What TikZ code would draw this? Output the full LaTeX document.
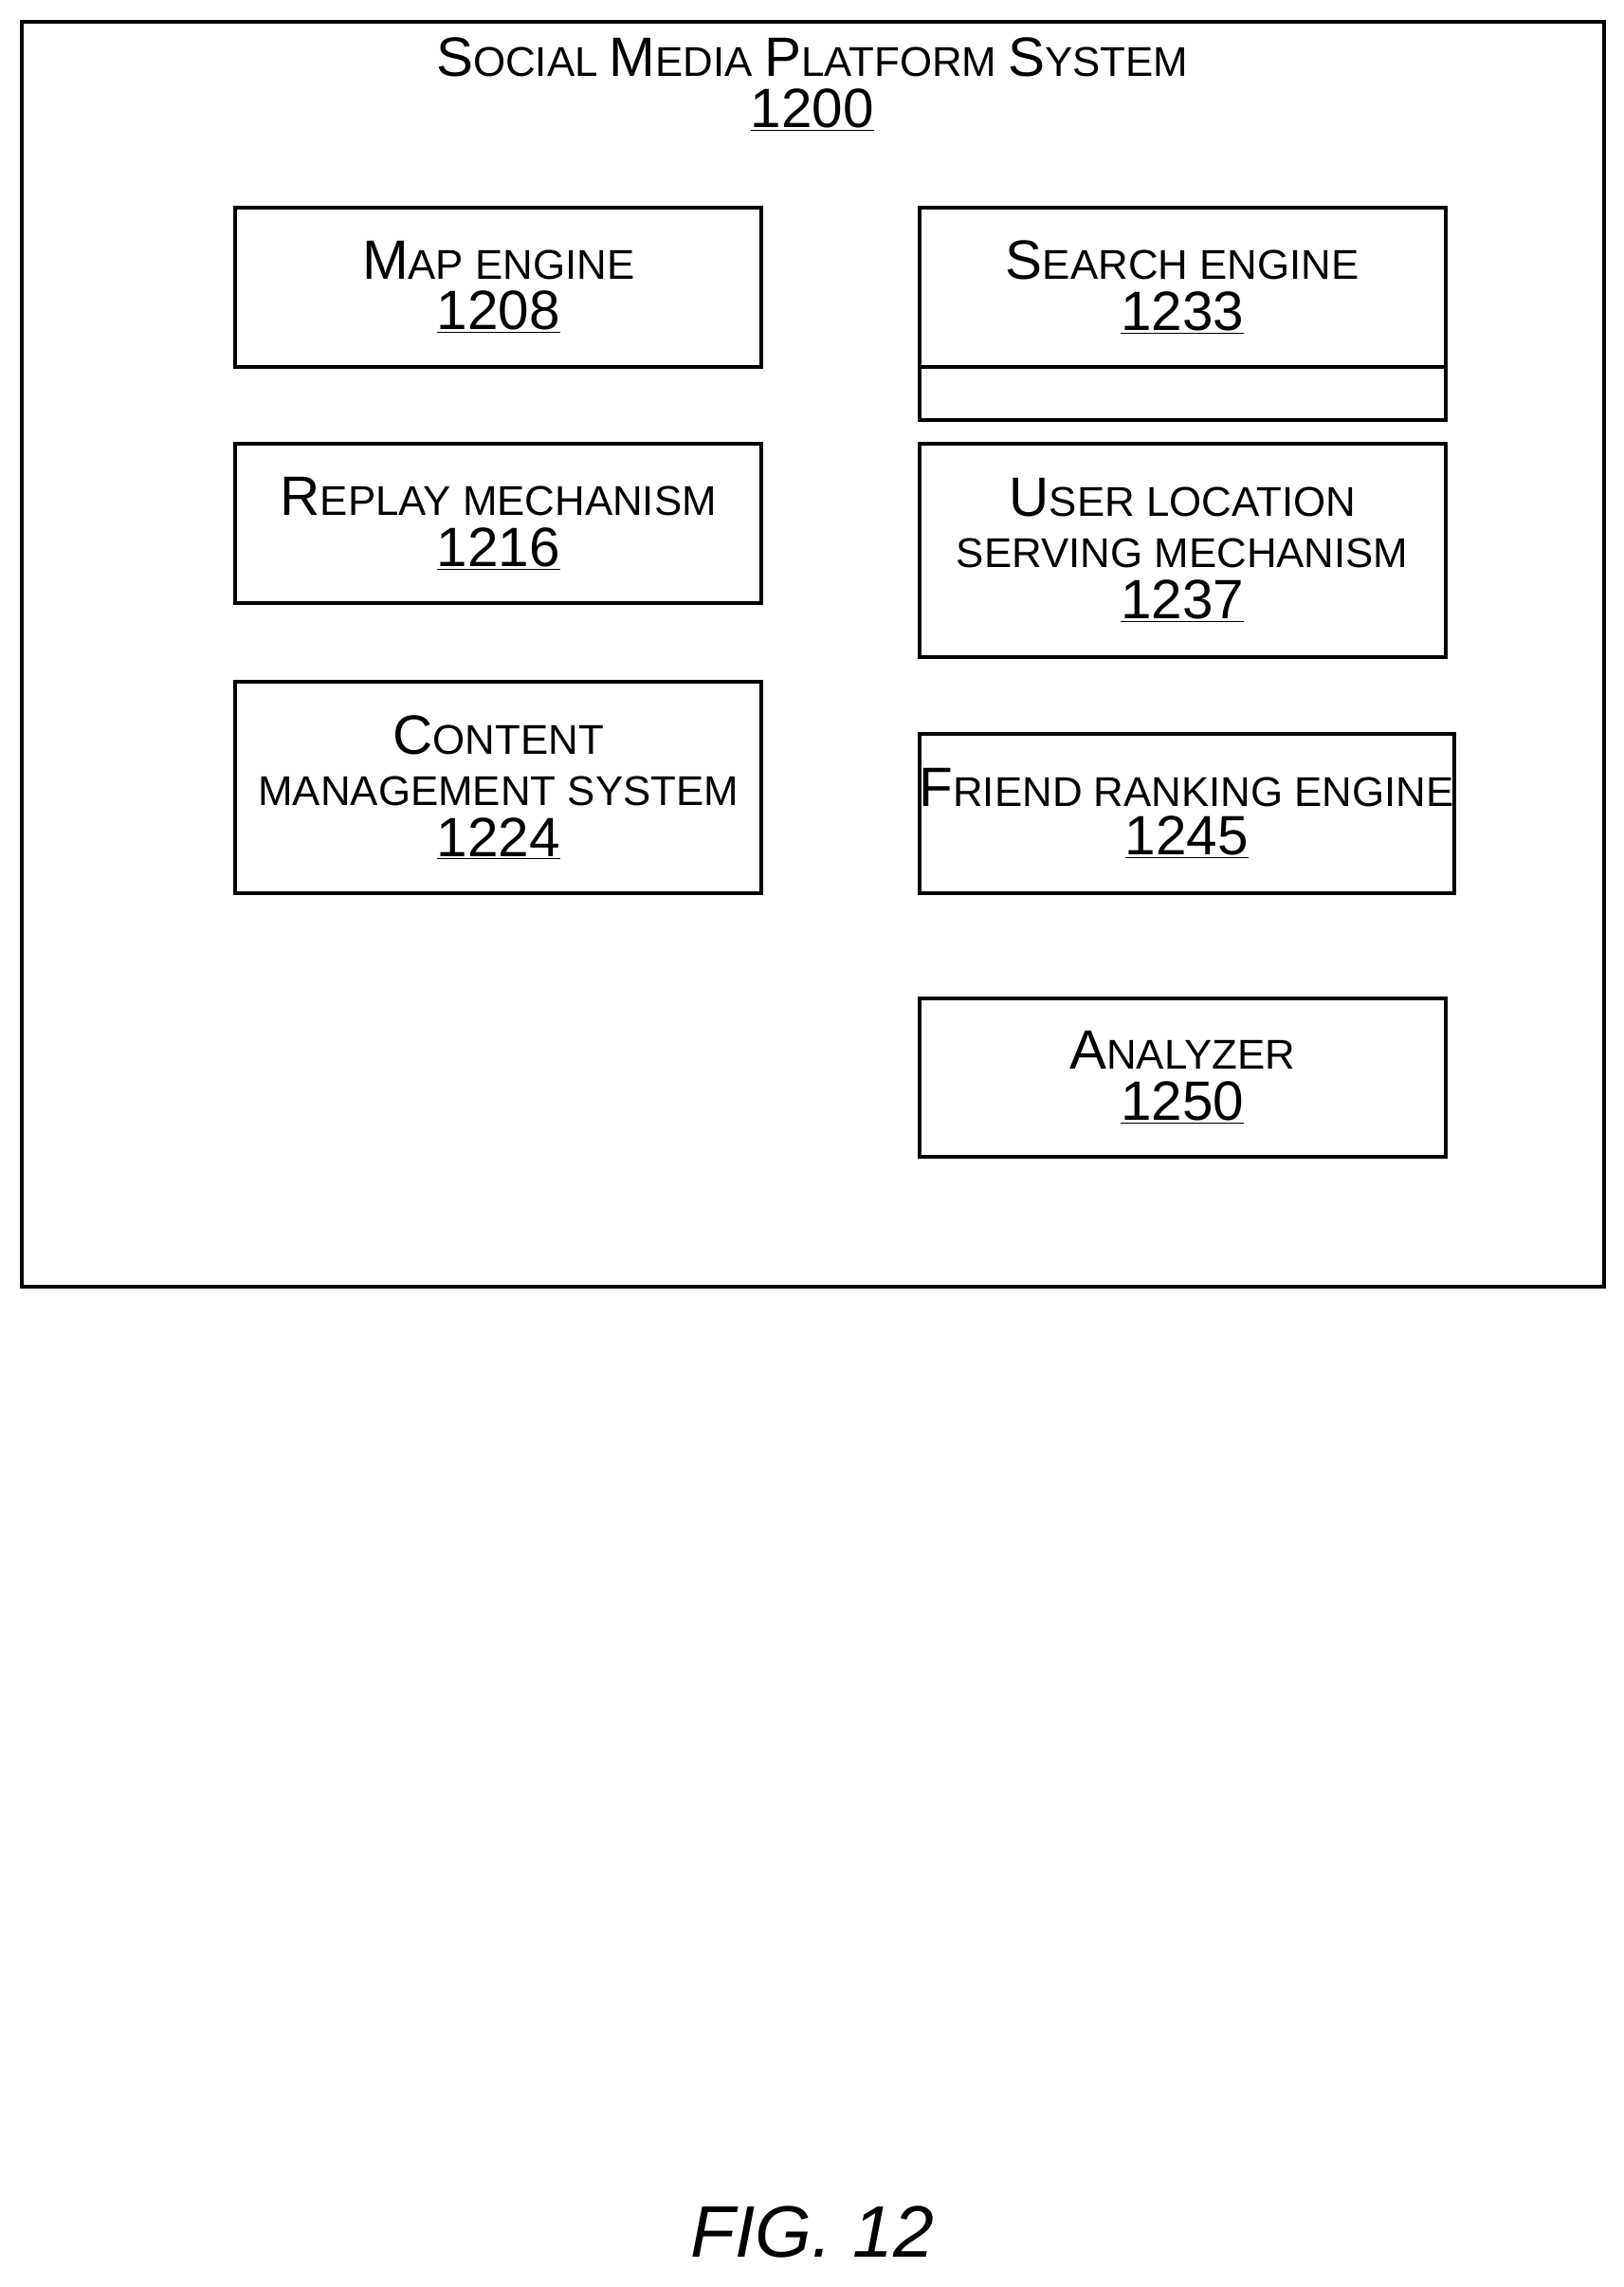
\documentclass[tikz,border=0pt]{standalone}
\usepackage{fontspec}
\setmainfont{Liberation Sans}
\newcommand{\bigL}{\fontsize{38}{38}\selectfont}
\newcommand{\smL}{\fontsize{28.5}{38}\selectfont}
\newcommand{\nm}[1]{{\bigL\underline{#1}}}
\begin{document}
\begin{tikzpicture}[x=1pt,y=-1pt,
  box/.style={draw,line width=2.6pt,minimum width=361pt,inner sep=0pt,align=center,anchor=north west,font=\bigL}]
\useasboundingbox (0,0) rectangle (1113,1568);
\draw[line width=2.6pt] (15,15) rectangle (1100,882);
\node[align=center,font=\bigL] (title) at (557,58) {{\bigL S}{\smL OCIAL }{\bigL M}{\smL EDIA }{\bigL P}{\smL LATFORM }{\bigL S}{\smL YSTEM}\\[-3pt]\nm{1200}};
\node[box,minimum height=109pt] (b1208) at (160,141) {{\bigL M}{\smL AP ENGINE}\\[-3pt]\nm{1208}};
\node[box,minimum height=109pt] (b1216) at (160,303) {{\bigL R}{\smL EPLAY MECHANISM}\\[-3pt]\nm{1216}};
\node[box,minimum height=145pt] (b1224) at (160,466) {{\bigL C}{\smL ONTENT}\\[-3pt]{\smL MANAGEMENT SYSTEM}\\[-3pt]\nm{1224}};
\node[box,minimum height=146pt] (b1233) at (629,141) {};
\node[box,minimum height=109pt] (b1233) at (629,141) {{\bigL S}{\smL EARCH ENGINE}\\[-3pt]\nm{1233}};
\node[box,minimum height=146pt] (b1237) at (629,303) {{\bigL U}{\smL SER LOCATION}\\[-3pt]{\smL SERVING MECHANISM}\\[-3pt]\nm{1237}};
\node[box,minimum height=109pt] (b1245) at (629,502) {{\bigL F}{\smL RIEND RANKING ENGINE}\\[-5pt]\nm{1245}};
\node[box,minimum height=109pt] (b1250) at (629,683) {{\bigL A}{\smL NALYZER}\\[-3pt]\nm{1250}};
\node[font=\fontsize{50}{56}\selectfont\itshape] (fig) at (557,1530) {FIG. 12};
\end{tikzpicture}
\end{document}
